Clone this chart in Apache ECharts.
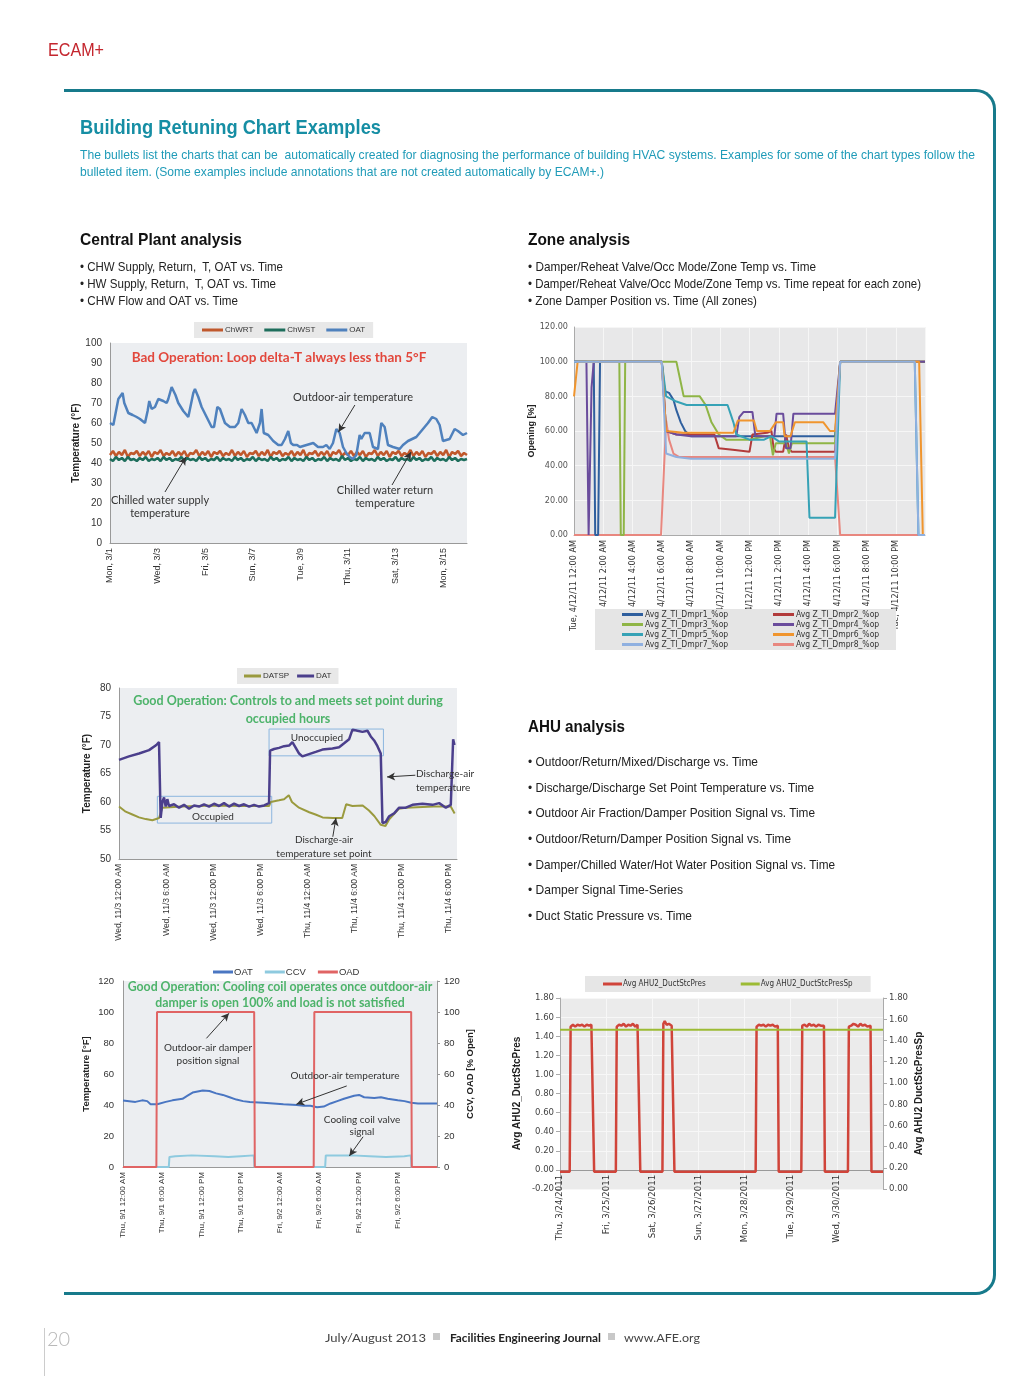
<!DOCTYPE html>
<html><head><meta charset="utf-8">
<script src="https://cdn.jsdelivr.net/npm/echarts@6/dist/echarts.min.js"></script>
<style>
html,body{margin:0;padding:0;background:#fff;}
body{width:1024px;height:1376px;position:relative;overflow:hidden;}
.cv{position:absolute;left:0;top:0;width:1024px;height:1376px;z-index:1;}
.t{position:absolute;z-index:2;white-space:pre;font-family:"Liberation Sans",Arial,sans-serif;transform-origin:0 50%;}
#frame{position:absolute;left:64px;top:89px;width:929px;height:1200px;border:3px solid #177a8b;border-left:none;border-radius:0 20px 20px 0;z-index:0;}
.b{font-size:13px;line-height:17px;color:#222;}
.h{font-size:17px;font-weight:bold;color:#111;line-height:20px;}
.f{font-family:Lato,"Noto Sans",sans-serif;}
</style></head>
<body>
<div id="frame"></div>
<div class="t" data-w="56" style="left:48px;top:40px;font-size:18px;line-height:20px;color:#c4262e;">ECAM+</div>
<div class="t" data-w="301" style="left:80px;top:116px;font-size:21px;line-height:22px;font-weight:bold;color:#168ea4;">Building Retuning Chart Examples</div>
<div class="t" data-w="895" style="left:80px;top:146px;font-size:13.5px;line-height:17px;color:#1f9bb8;">The bullets list the charts that can be  automatically created for diagnosing the performance of building HVAC systems. Examples for some of the chart types follow the</div>
<div class="t" data-w="524" style="left:80px;top:163px;font-size:13.5px;line-height:17px;color:#1f9bb8;">bulleted item. (Some examples include annotations that are not created automatically by ECAM+.)</div>
<div class="t h" data-w="162" style="left:80px;top:230px;">Central Plant analysis</div>
<div class="t b" data-w="203" style="left:80px;top:258px;">• CHW Supply, Return,  T, OAT vs. Time</div>
<div class="t b" data-w="196" style="left:80px;top:275px;">• HW Supply, Return,  T, OAT vs. Time</div>
<div class="t b" data-w="158" style="left:80px;top:292px;">• CHW Flow and OAT vs. Time</div>
<div class="t h" data-w="102" style="left:528px;top:230px;">Zone analysis</div>
<div class="t b" data-w="288" style="left:528px;top:258px;">• Damper/Reheat Valve/Occ Mode/Zone Temp vs. Time</div>
<div class="t b" data-w="393" style="left:528px;top:275px;">• Damper/Reheat Valve/Occ Mode/Zone Temp vs. Time repeat for each zone)</div>
<div class="t b" data-w="229" style="left:528px;top:292px;">• Zone Damper Position vs. Time (All zones)</div>
<div class="t h" data-w="97" style="left:528px;top:717px;">AHU analysis</div>
<div class="t b" data-w="230" style="left:528px;top:753px;">• Outdoor/Return/Mixed/Discharge vs. Time</div>
<div class="t b" data-w="286" style="left:528px;top:779px;">• Discharge/Discharge Set Point Temperature vs. Time</div>
<div class="t b" data-w="287" style="left:528px;top:804px;">• Outdoor Air Fraction/Damper Position Signal vs. Time</div>
<div class="t b" data-w="263" style="left:528px;top:830px;">• Outdoor/Return/Damper Position Signal vs. Time</div>
<div class="t b" data-w="307" style="left:528px;top:856px;">• Damper/Chilled Water/Hot Water Position Signal vs. Time</div>
<div class="t b" data-w="155" style="left:528px;top:881px;">• Damper Signal Time-Series</div>
<div class="t b" data-w="164" style="left:528px;top:907px;">• Duct Static Pressure vs. Time</div>
<div style="position:absolute;left:44px;top:1328px;width:1px;height:48px;background:#ccc;"></div>
<div class="t f" style="left:47px;top:1326px;font-size:20px;font-weight:300;color:#b8b8b8;">20</div>
<div class="t f" data-w="101" style="left:325px;top:1331px;font-size:11px;color:#444;">July/August 2013</div>
<div style="position:absolute;left:433px;top:1333px;width:7px;height:7px;background:#c8c8c8;"></div>
<div class="t f" data-w="151" style="left:450px;top:1331px;font-size:11px;font-weight:bold;color:#222;">Facilities Engineering Journal</div>
<div style="position:absolute;left:608px;top:1333px;width:7px;height:7px;background:#c8c8c8;"></div>
<div class="t f" data-w="76" style="left:624px;top:1331px;font-size:11px;color:#444;">www.AFE.org</div>

<div id="c1" class="cv"></div>
<div id="c2" class="cv"></div>
<div id="c3" class="cv"></div>
<div id="c4" class="cv"></div>
<div id="c5" class="cv"></div>
<script>
// fit page text lines to the reference line widths
document.querySelectorAll('.t[data-w]').forEach(el => {
  const w = el.getBoundingClientRect().width;
  el.style.transform = 'scaleX(' + (parseFloat(el.dataset.w) / w) + ')';
});

// ---------- DATA ----------
// Chart 1: Central plant (x in days from Mon 3/1)
const cpLabels = ['Mon, 3/1','Wed, 3/3','Fri, 3/5','Sun, 3/7','Tue, 3/9','Thu, 3/11','Sat, 3/13','Mon, 3/15'];
const cpOAT = [[0,60],[0.14,59],[0.35,72],[0.42,73],[0.53,75],[0.6,70],[0.77,65],[0.95,64],[1.12,63],[1.26,62],[1.47,60],[1.58,66],[1.65,71],[1.75,67],[1.89,68],[2.03,72],[2.24,71],[2.38,70],[2.45,72],[2.59,78],[2.66,78],[2.75,74],[2.87,70],[3.08,66],[3.29,63],[3.36,62],[3.5,75],[3.57,77],[3.71,73],[3.85,68],[4.06,63],[4.27,58],[4.37,58],[4.51,68],[4.62,67],[4.83,60],[5.04,58],[5.25,58],[5.39,60],[5.53,67],[5.67,64],[5.81,60],[5.95,60],[6.16,55],[6.3,60],[6.37,67],[6.46,55],[6.65,54],[6.86,51],[7.07,49],[7.21,49],[7.35,52],[7.49,56],[7.6,50],[7.7,49],[7.86,49],[7.98,48],[8.26,49],[8.54,50],[8.74,48],[8.95,48],[9.09,49],[9.23,47],[9.37,50],[9.51,57],[9.65,55],[9.79,48],[9.93,45],[10.07,43],[10.21,42],[10.35,44],[10.49,54],[10.56,52],[10.7,55],[10.91,55],[11.05,48],[11.26,47],[11.4,60],[11.54,58],[11.68,49],[11.89,48],[12.17,47],[12.31,49],[12.52,51],[12.87,53],[13.01,55],[13.22,58],[13.36,60],[13.54,63],[13.71,62],[13.85,59],[13.99,51],[14.27,52],[14.34,53],[14.48,57],[14.62,56],[14.83,54],[15,55]];
const cpChWRT = [44,46,43.5,45.5,44,46.5,43,45,44.5,46,43.5,45.5,44,46,43,45.5,44.5,46.5,43.5,45,
  44,46,43.5,45.5,44,46,43,45,44.5,46.5,43.5,45.5,44,46,43,45.5,44.5,46,43.5,45,
  44,46.5,43.5,45.5,44,46,43,45,44.5,46,43.5,45.5,44,46.5,43,45.5,44.5,46,43.5,45,
  44,46,43.5,45.5,44,46.5,43,45,44.5,46,43.5,45.5,44,46,43,45.5,44.5,46.5,43.5,45,
  44,46,43.5,45.5,44,46,43,45,44.5,46.5,43.5,45.5,44,46,43,45.5,44.5,46,43.5,45,
  44,46.5,43.5,45.5,44,46,43,45,44.5,46,43.5,45.5,44,46.5,43,45.5,44.5,46,43.5,45,44];
const cpChWST = [42,41,43,41.5,42.5,41,43,41.5,42,41,42.5,41.5,43,41,42,41.5,42.5,41,43,41.5,
  42.5,41,42,41.5,43,41,42.5,41.5,42,41,43,41.5,42.5,41,42,41.5,43,41,42.5,41.5,
  42,41,43,41.5,42.5,41,42,41.5,43,41,42.5,41.5,42,41,43,41.5,42.5,41,42,41.5,
  43,41,42.5,41.5,42,41,43,41.5,42.5,41,42,41.5,43,41,42.5,41.5,42,41,43.5,41.5,
  42.5,41,42,41.5,43,41,42.5,41.5,42,41,43,41.5,42.5,41,42,41.5,43,41,42.5,41.5,
  42,41,43,41.5,42.5,41,42,41.5,43,41,42.5,41.5,42,41,43,41.5,42.5,41,42,41.5,42];

// Chart 2: Zone dampers (x in hours of 4/12/11)
const zoneLabels = ['Tue, 4/12/11 12:00 AM','4/12/11 2:00 AM','4/12/11 4:00 AM','4/12/11 6:00 AM','4/12/11 8:00 AM','4/12/11 10:00 AM','4/12/11 12:00 PM','4/12/11 2:00 PM','4/12/11 4:00 PM','4/12/11 6:00 PM','4/12/11 8:00 PM','Tue, 4/12/11 10:00 PM'];
const dmpr1 = [[0,100],[1.35,100],[1.45,0],[1.65,0],[1.78,100],[6,100],[6.2,83],[6.5,82],[6.8,78],[7.0,72],[7.3,65],[7.6,60],[8,57],[12,57],[17.85,57],[18.2,100],[24,100]];
const dmpr2 = [[0,100],[6,100],[6.3,60],[7,58],[9.6,58],[9.9,50],[11.0,49],[11.1,48],[12,48],[12.2,58],[13.2,59],[13.5,60],[13.65,50],[13.8,48],[14.3,48],[14.5,58],[14.7,50],[14.9,48],[17.85,48],[18.2,100],[24,100]];
const dmpr3 = [[0,100],[3.1,100],[3.2,0],[3.4,0],[3.5,100],[7.0,100],[7.2,92],[7.5,80],[8.6,80],[9.0,75],[9.4,65],[9.9,58],[10.4,55],[12,55],[13.0,57],[13.4,57],[13.6,46],[13.8,53],[14.5,53],[14.7,47],[14.9,53],[17.85,53],[18.2,100],[24,100]];
const dmpr4 = [[0,100],[0.85,100],[1.0,0],[1.1,0],[1.2,85],[1.35,100],[6,100],[6.3,60],[7,58],[8,57],[11.1,57],[11.3,68],[11.6,71],[12.2,71],[12.4,57],[13.7,57],[13.85,70],[14.3,70],[14.5,50],[14.8,50],[15,70],[17.85,70],[18.2,100],[24,100]];
const dmpr5 = [[0,100],[6,100],[6.3,80],[7,77],[7.7,75],[10.5,75],[10.7,70],[10.9,65],[11.1,58],[12,55],[13.0,55],[13.5,57],[14,54],[15.9,54],[16.1,10],[17.85,10],[18.2,100],[23.3,100],[23.55,0],[24,0]];
const dmpr6 = [[0,80],[0.25,100],[6,100],[6.3,60],[7.5,59],[10.9,59],[11.2,66],[12.3,66],[12.5,60],[13.4,60],[13.8,65],[14.3,65],[14.4,57],[14.8,57],[15.1,65],[17.05,65],[17.5,60],[17.85,60],[18.2,100],[23.6,100],[23.85,0],[24,0]];
const dmpr7 = [[0,100],[6,100],[6.3,47],[7,45],[8,44],[17.85,44],[18.2,100],[23.3,100],[23.55,0],[24,0]];
const dmpr8 = [[0,0],[5.95,0],[6.3,66],[6.5,55],[6.8,47],[7.2,45],[17.85,45],[18.2,0],[24,0]];

// Chart 3: DATSP / DAT (x in hours from Wed 11/3 12:00 AM)
const datLabels = ['Wed, 11/3 12:00 AM','Wed, 11/3 6:00 AM','Wed, 11/3 12:00 PM','Wed, 11/3 6:00 PM','Thu, 11/4 12:00 AM','Thu, 11/4 6:00 AM','Thu, 11/4 12:00 PM','Thu, 11/4 6:00 PM'];
const datDAT = [[0,67.4],[1.27,68],[2.55,68.5],[3.82,69.1],[4.75,70],[5.09,70.5],[5.3,57.2],[5.52,60],[5.73,60.8],[5.94,59.2],[6.15,60.5],[6.36,59.3],[7.0,59.6],[7.64,59.0],[8.27,59.5],[8.91,58.8],[9.55,59.4],[10.18,59.2],[10.82,59.6],[11.46,59.2],[12.09,59.7],[12.73,59.3],[13.36,59.8],[14.0,59.2],[14.64,59.7],[15.27,59.3],[15.91,59.6],[16.55,59.2],[17.18,59.5],[17.82,59.2],[18.46,59.4],[19.09,59.8],[19.22,69.0],[19.73,69.3],[20.36,69.5],[21.0,69.8],[21.64,69.9],[22.06,70.5],[22.49,69.5],[22.91,68.5],[23.33,68.0],[24.18,68.4],[25.03,68.8],[25.88,69.2],[27.15,69.4],[28.0,69.6],[28.64,70.3],[29.27,71.0],[29.7,72.7],[30.33,72.5],[30.97,72.3],[31.61,72.5],[32.03,71.5],[32.46,70.8],[32.88,69.8],[33.3,68.5],[33.52,56.3],[33.94,56.5],[34.37,57.5],[35.0,58.0],[35.64,59.0],[36.49,59.0],[37.34,59.5],[38.61,59.7],[39.88,59.5],[40.73,59.8],[41.58,59.0],[42.21,59.5],[42.51,71.0],[42.68,70.0]];
const datDATSP = [[0,59.2],[0.85,58.3],[1.7,57.8],[2.55,57.3],[3.4,57.0],[4.25,56.8],[5.1,57.2],[5.3,57.5],[5.5,59.0],[8,59.2],[12,59.4],[16,59.3],[19.1,59.3],[19.3,60.0],[20.36,60.3],[21.0,60.5],[21.6,61.2],[22.0,60.0],[22.9,59.0],[24.2,58.2],[25.0,57.8],[25.9,57.3],[27.2,57.2],[28.4,57.2],[28.9,59.6],[29.7,59.3],[31.0,59.4],[31.8,58.5],[32.5,57.5],[33.3,56.0],[33.9,55.8],[34.4,57.0],[35.6,58.8],[36.5,59.0],[40,59.2],[42.2,59.2],[42.7,58.0]];

// Chart 4: OAT / CCV / OAD (x in hours from Thu 9/1 12:00 AM)
const ccvLabels = ['Thu, 9/1 12:00 AM','Thu, 9/1 6:00 AM','Thu, 9/1 12:00 PM','Thu, 9/1 6:00 PM','Fri, 9/2 12:00 AM','Fri, 9/2 6:00 AM','Fri, 9/2 12:00 PM','Fri, 9/2 6:00 PM'];
const ahuOAT = [[0,42.9],[1.9,42.0],[2.93,43.0],[3.7,42.5],[4.22,40.5],[5.24,40.5],[6.53,42.0],[7.56,43.0],[9.1,44.0],[9.87,46.0],[10.64,48.0],[12.19,49.3],[13.21,49.0],[14.24,47.5],[15.27,46.5],[16.3,45.0],[17.33,43.5],[18.35,42.5],[19.38,42.0],[21.44,41.5],[22.98,41.0],[24.52,40.5],[26.58,40.0],[27.61,39.5],[28.64,39.5],[29.67,38.5],[30.69,39.0],[31.72,41.0],[32.75,42.5],[33.78,44.0],[35.32,46.0],[36.09,46.5],[36.86,45.0],[38.41,44.5],[39.43,45.0],[40.46,44.0],[42.0,43.0],[43.03,42.5],[44.06,41.5],[45.09,41.0],[48,41.0]];
const ahuCCV = [[0,0],[7.0,0],[7.1,6.5],[8,7],[10.5,7.5],[14,7],[16.1,6.5],[18,7],[20.0,7.5],[20.1,0],[30.9,0],[31.0,7.5],[35,7.5],[37.7,7],[40.2,6.5],[43,7],[44.0,7.5],[44.1,0],[48,0]];
const ahuOAD = [[0,0],[5.1,0],[5.2,100],[20.05,100],[20.15,0],[29.15,0],[29.25,100],[44.05,100],[44.15,0],[48,0]];

// Chart 5: Duct static pressure (x in days from Thu 3/24/2011)
const dspLabels = ['Thu, 3/24/2011','Fri, 3/25/2011','Sat, 3/26/2011','Sun, 3/27/2011','Mon, 3/28/2011','Tue, 3/29/2011','Wed, 3/30/2011'];
const dspPres = [[0,-0.02],[0.21,-0.02],[0.23,1.50],[0.28,1.52],[0.33,1.50],[0.38,1.52],[0.43,1.51],[0.48,1.52],[0.53,1.50],[0.58,1.52],[0.63,1.51],[0.68,1.52],[0.72,1.50],[0.74,-0.02],[1.21,-0.02],[1.23,1.50],[1.28,1.52],[1.33,1.51],[1.38,1.53],[1.43,1.50],[1.48,1.52],[1.53,1.51],[1.58,1.53],[1.63,1.50],[1.68,1.52],[1.72,1.51],[1.74,-0.02],[2.22,-0.02],[2.24,1.53],[2.27,1.56],[2.31,1.52],[2.36,1.53],[2.42,1.51],[2.46,1.51],[2.48,-0.02],[4.24,-0.02],[4.26,1.50],[4.31,1.52],[4.36,1.51],[4.41,1.52],[4.46,1.50],[4.51,1.52],[4.56,1.51],[4.61,1.52],[4.66,1.50],[4.72,1.51],[4.74,-0.02],[5.23,-0.02],[5.25,1.51],[5.3,1.52],[5.35,1.50],[5.4,1.53],[5.45,1.51],[5.5,1.52],[5.55,1.50],[5.6,1.52],[5.65,1.51],[5.72,1.51],[5.74,-0.02],[6.24,-0.02],[6.26,1.50],[6.31,1.51],[6.36,1.53],[6.41,1.52],[6.46,1.50],[6.51,1.53],[6.56,1.51],[6.61,1.52],[6.66,1.50],[6.73,1.51],[6.75,-0.02],[7,-0.02]];
const dspSp = [[0,1.5],[7,1.5]];

// ---------- HELPERS ----------
const ARIAL = 'Liberation Sans, Arial, sans-serif';
const NARROW = 'Liberation Sans Narrow, DejaVu Sans Condensed, sans-serif';
const ANN = 'Lato, Liberation Sans, sans-serif';
function lbl(arr, step){ return v => { const i = Math.round(v/step); return Math.abs(i*step - v) < 1e-6 && arr[i] !== undefined ? arr[i] : ''; }; }
function line(name, data, color, width, extra){ return Object.assign({type:'line', name, data, symbol:'none', showSymbol:false, lineStyle:{color, width}, itemStyle:{color}, z:3}, extra||{}); }
function txt(text, x, y, font, fill, align){ return {type:'text', z:30, style:{text, x, y, font, fill, textAlign:align||'center', textVerticalAlign:'middle'}}; }
function arrows(list){ return {silent:true, symbol:['none','arrow'], symbolSize:[6,8], lineStyle:{color:'#333', width:1, type:'solid'}, label:{show:false}, data:list.map(a=>[{coord:a[0]},{coord:a[1]}])}; }
function leg(o){ return Object.assign({icon:'rect', itemHeight:3, z:20}, o); }
function mk(id, opt){ const c = echarts.init(document.getElementById(id), null, {renderer:'canvas'}); opt.animation=false; c.setOption(opt); }

// ---------- CHART 1 ----------
mk('c1', {
  grid:{left:110, top:343, width:357, height:200, show:true, backgroundColor:'#eceef1', borderWidth:0},
  legend:leg({left:194, top:322, padding:[4,8], backgroundColor:'#e8e8e8', itemWidth:21, itemGap:11, textStyle:{fontSize:8, color:'#333', fontFamily:ARIAL, padding:[0,0,0,-3]}, data:['ChWRT','ChWST','OAT']}),
  xAxis:{type:'value', min:0, max:15, interval:2, axisLine:{lineStyle:{color:'#999'}}, axisTick:{show:false}, splitLine:{show:false},
    axisLabel:{rotate:90, fontSize:9, color:'#333', fontFamily:ARIAL, margin:5, showMaxLabel:false, formatter:lbl(cpLabels,2)}},
  yAxis:{type:'value', min:0, max:100, interval:10, axisLine:{show:true, lineStyle:{color:'#999'}}, axisTick:{show:false}, splitLine:{show:false},
    axisLabel:{fontSize:10, color:'#333', fontFamily:ARIAL, margin:8},
    name:'Temperature (°F)', nameLocation:'middle', nameRotate:90, nameGap:27, nameTextStyle:{fontSize:10, fontWeight:'bold', color:'#222', fontFamily:ARIAL}},
  series:[
    line('ChWRT', cpChWRT.map((v,i,a)=>[i*15/(a.length-1), v]), '#c0582c', 2.5),
    line('ChWST', cpChWST.map((v,i,a)=>[i*15/(a.length-1), v]), '#1e6e5c', 2.5),
    line('OAT', cpOAT, '#4f81bd', 2.5, {markLine: arrows([[[10.29,69],[9.6,55.5]],[[2.31,25.5],[3.19,43]],[[11.85,29],[12.65,45.5]]])})
  ],
  graphic:[
    txt('Bad Operation: Loop delta-T always less than 5°F', 279, 358, 'bold 13.5px '+ANN, '#e2473c'),
    txt('Outdoor-air temperature', 353, 397, '11px '+ANN, '#333'),
    txt('Chilled water supply', 160, 500, '11px '+ANN, '#333'),
    txt('temperature', 160, 513, '11px '+ANN, '#333'),
    txt('Chilled water return', 385, 490, '11px '+ANN, '#333'),
    txt('temperature', 385, 503, '11px '+ANN, '#333')
  ]
});

// ---------- CHART 2 ----------
const zLeg1 = ['Avg Z_TI_Dmpr1_%op','Avg Z_TI_Dmpr3_%op','Avg Z_TI_Dmpr5_%op','Avg Z_TI_Dmpr7_%op'];
const zLeg2 = ['Avg Z_TI_Dmpr2_%op','Avg Z_TI_Dmpr4_%op','Avg Z_TI_Dmpr6_%op','Avg Z_TI_Dmpr8_%op'];
const zLegStyle = {orient:'vertical', top:608, padding:[2,0], itemGap:1, itemWidth:21, itemHeight:3, textStyle:{fontSize:8.5, lineHeight:9, height:9, color:'#333', fontFamily:NARROW, padding:[0,0,0,-3]}};
mk('c2', {
  grid:{left:574, top:327, width:351, height:208, show:true, backgroundColor:'#e8e8e9', borderWidth:0},
  legend:[leg(Object.assign({left:622, data:zLeg1}, zLegStyle)), leg(Object.assign({left:773, data:zLeg2}, zLegStyle))],
  xAxis:{type:'value', min:0, max:24, interval:2, axisLine:{lineStyle:{color:'#aaa'}}, axisTick:{show:false}, splitLine:{show:true, lineStyle:{color:'#f6f6f6'}},
    axisLabel:{rotate:90, fontSize:9, color:'#333', fontFamily:NARROW, margin:5, showMaxLabel:false, formatter:lbl(zoneLabels,2)}},
  yAxis:{type:'value', min:0, max:120, interval:20, axisLine:{show:true, lineStyle:{color:'#aaa'}}, axisTick:{show:false}, splitLine:{show:true, lineStyle:{color:'#f6f6f6'}},
    axisLabel:{fontSize:9, color:'#555', fontFamily:NARROW, margin:6, formatter:v=>v.toFixed(2)},
    name:'Opening [%]', nameLocation:'middle', nameRotate:90, nameGap:37, nameTextStyle:{fontSize:9, fontWeight:'bold', color:'#222', fontFamily:ARIAL}},
  series:[
    line(zLeg2[3], dmpr8, '#e8877f', 2),
    line(zLeg1[0], dmpr1, '#2f5f9e', 2),
    line(zLeg2[0], dmpr2, '#b23b3b', 2),
    line(zLeg1[1], dmpr3, '#8fb546', 2),
    line(zLeg2[1], dmpr4, '#6a4c9c', 2),
    line(zLeg1[2], dmpr5, '#36a2b6', 2),
    line(zLeg2[2], dmpr6, '#f0952e', 2),
    line(zLeg1[3], dmpr7, '#8fb0e0', 2)
  ],
  graphic:[{type:'rect', z:15, shape:{x:595, y:609, width:301, height:41}, style:{fill:'#e5e5e5'}}]
});

// ---------- CHART 3 ----------
mk('c3', {
  grid:{left:119, top:688, width:338, height:171, show:true, backgroundColor:'#eceef1', borderWidth:0},
  legend:leg({left:237, top:668, padding:[4,7], backgroundColor:'#e8e8e8', itemWidth:17, itemGap:8, textStyle:{fontSize:8, color:'#333', fontFamily:ARIAL, padding:[0,0,0,-3]}, data:['DATSP','DAT']}),
  xAxis:{type:'value', min:0, max:43, interval:6, axisLine:{lineStyle:{color:'#999'}}, axisTick:{show:false}, splitLine:{show:false},
    axisLabel:{rotate:90, fontSize:8.5, color:'#333', fontFamily:ARIAL, margin:5, showMaxLabel:false, formatter:lbl(datLabels,6)}},
  yAxis:{type:'value', min:50, max:80, interval:5, axisLine:{show:true, lineStyle:{color:'#999'}}, axisTick:{show:false}, splitLine:{show:false},
    axisLabel:{fontSize:10, color:'#333', fontFamily:ARIAL, margin:8},
    name:'Temperature (°F)', nameLocation:'middle', nameRotate:90, nameGap:27, nameTextStyle:{fontSize:10, fontWeight:'bold', color:'#222', fontFamily:ARIAL}},
  series:[
    line('DATSP', datDATSP, '#9a9a3e', 2),
    line('DAT', datDAT, '#4b3f8c', 2.5, {
      markArea:{silent:true, itemStyle:{color:'rgba(0,0,0,0)', borderColor:'#8cb6df', borderWidth:1}, label:{show:false},
        data:[[{coord:[4.88,61.0]},{coord:[19.43,56.3]}],[{coord:[19.09,72.8]},{coord:[33.64,68.1]}]]},
      markLine: arrows([[[37.7,64.7],[34.1,64.4]],[[27.2,53.9],[27.6,57.2]]])
    })
  ],
  graphic:[
    txt('Good Operation: Controls to and meets set point during', 288, 701, 'bold 12.5px '+ANN, '#4db36a'),
    txt('occupied hours', 288, 719, 'bold 12.5px '+ANN, '#4db36a'),
    txt('Unoccupied', 317, 738, '10px '+ANN, '#333'),
    txt('Occupied', 213, 817, '10px '+ANN, '#333'),
    txt('Discharge-air', 416, 774, '10px '+ANN, '#333', 'left'),
    txt('temperature', 416, 788, '10px '+ANN, '#333', 'left'),
    txt('Discharge-air', 324, 840, '10px '+ANN, '#333'),
    txt('temperature set point', 324, 854, '10px '+ANN, '#333')
  ]
});

// ---------- CHART 4 ----------
mk('c4', {
  grid:{left:123, top:981, width:314, height:186, show:true, backgroundColor:'#eceef1', borderWidth:0},
  legend:leg({left:213, top:967, padding:0, itemWidth:20, itemGap:12, textStyle:{fontSize:9.5, color:'#333', fontFamily:ARIAL, padding:[0,0,0,-4]}, data:['OAT','CCV','OAD']}),
  xAxis:{type:'value', min:0, max:48, interval:6, axisLine:{lineStyle:{color:'#999'}}, axisTick:{show:false}, splitLine:{show:false},
    axisLabel:{rotate:90, fontSize:8, color:'#333', fontFamily:ARIAL, margin:5, showMaxLabel:false, formatter:lbl(ccvLabels,6)}},
  yAxis:[
    {type:'value', min:0, max:120, interval:20, axisLine:{show:true, lineStyle:{color:'#999'}}, axisTick:{show:false}, splitLine:{show:false},
      axisLabel:{fontSize:9.5, color:'#333', fontFamily:ARIAL, margin:9},
      name:'Temperature [°F]', nameLocation:'middle', nameRotate:90, nameGap:32, nameTextStyle:{fontSize:9.5, fontWeight:'bold', color:'#222', fontFamily:ARIAL}},
    {type:'value', position:'right', min:0, max:120, interval:20, axisLine:{show:true, lineStyle:{color:'#999'}}, axisTick:{show:true, length:3, lineStyle:{color:'#999'}}, splitLine:{show:false},
      axisLabel:{fontSize:9.5, color:'#333', fontFamily:ARIAL, margin:7},
      name:'CCV, OAD [% Open]', nameLocation:'middle', nameRotate:90, nameGap:28, nameTextStyle:{fontSize:9.5, fontWeight:'bold', color:'#222', fontFamily:ARIAL}}
  ],
  series:[
    line('OAT', ahuOAT, '#4a76c2', 2, {yAxisIndex:0, markLine: arrows([[[12.75,83],[16.2,99.2]],[[34.2,52.3],[26.5,40.5]],[[36.7,19.5],[34.6,7.1]]])}),
    line('CCV', ahuCCV, '#8ecadf', 2, {yAxisIndex:1}),
    line('OAD', ahuOAD, '#e06464', 2, {yAxisIndex:1})
  ],
  graphic:[
    txt('Good Operation: Cooling coil operates once outdoor-air', 280, 987, 'bold 12.3px '+ANN, '#4db36a'),
    txt('damper is open 100% and load is not satisfied', 280, 1003, 'bold 12.3px '+ANN, '#4db36a'),
    txt('Outdoor-air damper', 208, 1048, '10px '+ANN, '#333'),
    txt('position signal', 208, 1061, '10px '+ANN, '#333'),
    txt('Outdoor-air temperature', 345, 1076, '10px '+ANN, '#333'),
    txt('Cooling coil valve', 362, 1120, '10px '+ANN, '#333'),
    txt('signal', 362, 1132, '10px '+ANN, '#333')
  ]
});

// ---------- CHART 5 ----------
const dspMin = -0.2, dspMax = 1.8, dspGridH = 191;
mk('c5', {
  grid:{left:560, top:998, width:323, height:dspGridH, show:true, backgroundColor:'#ebebeb', borderWidth:0},
  legend:leg({left:585, top:976, padding:[4,18], backgroundColor:'#e6e6e6', itemWidth:19, itemGap:35, textStyle:{fontSize:8, color:'#333', fontFamily:NARROW, padding:[0,0,0,-4]}, data:['Avg AHU2_DuctStcPres','Avg AHU2_DuctStcPresSp']}),
  xAxis:{type:'value', min:0, max:7, interval:1, offset:-dspGridH*(0-dspMin)/(dspMax-dspMin),
    axisLine:{onZero:false, lineStyle:{color:'#999'}}, axisTick:{show:false}, splitLine:{show:true, lineStyle:{color:'#f7f7f7'}},
    axisLabel:{rotate:90, fontSize:9.5, color:'#333', fontFamily:NARROW, margin:5, showMaxLabel:false, formatter:lbl(dspLabels,1)}},
  yAxis:[
    {type:'value', min:dspMin, max:dspMax, interval:0.2, axisLine:{show:true, lineStyle:{color:'#aaa'}}, axisTick:{show:true, length:4, lineStyle:{color:'#aaa'}}, splitLine:{show:true, lineStyle:{color:'#f7f7f7'}},
      axisLabel:{fontSize:9.5, color:'#444', fontFamily:NARROW, margin:6, formatter:v=>v.toFixed(2)},
      name:'Avg AHU2_DuctStcPres', nameLocation:'middle', nameRotate:90, nameGap:38, nameTextStyle:{fontSize:10, fontWeight:'bold', color:'#222', fontFamily:ARIAL}},
    {type:'value', position:'right', min:0, max:1.8, interval:0.2, axisLine:{show:true, lineStyle:{color:'#aaa'}}, axisTick:{show:true, length:4, lineStyle:{color:'#aaa'}}, splitLine:{show:false},
      axisLabel:{fontSize:9.5, color:'#444', fontFamily:NARROW, margin:6, formatter:v=>v.toFixed(2)},
      name:'Avg AHU2 DuctStcPresSp', nameLocation:'middle', nameRotate:90, nameGap:31, nameTextStyle:{fontSize:10, fontWeight:'bold', color:'#222', fontFamily:ARIAL}}
  ],
  series:[
    line('Avg AHU2_DuctStcPres', dspPres, '#d0443a', 2.5, {yAxisIndex:0}),
    line('Avg AHU2_DuctStcPresSp', dspSp, '#9cbb34', 2, {yAxisIndex:1})
  ]
});
</script>
</body></html>
